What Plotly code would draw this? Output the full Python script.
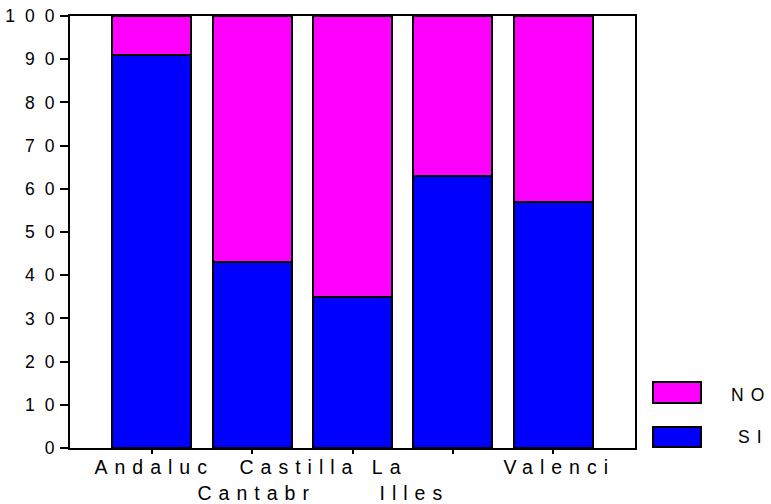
import plotly.graph_objects as go

# ---- data ----
categories = ["Andaluc", "Cantabr", "Castilla La", "Illes", "Valenci"]
si_values = [91, 43, 35, 63, 57]
no_values = [9, 57, 65, 37, 43]
series_names = ["SI", "NO"]
series_colors = ["#0000FF", "#FF00FF"]
y_tick_values = list(range(0, 101, 10))

FONT = "Liberation Sans, Arial, sans-serif"
LS_X = 7  # letter spacing (px) used for annotation text

x_pos = list(range(len(categories)))

fig = go.Figure()
for name, vals, col in zip(series_names, [si_values, no_values], series_colors):
    fig.add_trace(go.Bar(
        x=x_pos, y=vals, name=name, width=0.787,
        marker=dict(color=col, line=dict(color="black", width=2)),
        hoverinfo="skip", showlegend=False,
    ))

# category labels (alternating rows, as in the reference)
rows = [0, 1, 0, 1, 0]
label_shift = [-1, 1, -33, -42, 3]
annotations = []
for i, (cat, r, sh) in enumerate(zip(categories, rows, label_shift)):
    annotations.append(dict(
        x=i, xref="x", y=0, yref="paper", yanchor="middle", xanchor="center",
        yshift=-19 if r == 0 else -44.5, xshift=sh + LS_X / 2,
        text=cat, showarrow=False,
        font=dict(family=FONT, size=19.5, color="black"),
    ))

# legend drawn as swatches + labels
plot_l, plot_w, plot_t, plot_h = 70, 565, 16, 432
def px_x(p):
    return (p - plot_l) / plot_w
def px_y(p):
    return (plot_t + plot_h - p) / plot_h

legend_items = [("NO", "#FF00FF", 382, 403, 395, 747), ("SI", "#0000FF", 427, 447, 437, 750)]
shapes = []
for name, col, y0, y1, yc, xc in legend_items:
    shapes.append(dict(type="rect", xref="paper", yref="paper",
                       x0=px_x(653), x1=px_x(701), y0=px_y(y1), y1=px_y(y0),
                       fillcolor=col, line=dict(color="black", width=2)))
    annotations.append(dict(x=px_x(xc), y=px_y(yc), xref="paper", yref="paper",
                            xanchor="center", yanchor="middle", xshift=LS_X / 2,
                            text=name, showarrow=False,
                            font=dict(family=FONT, size=17.5, color="black")))

fig.update_layout(
    width=771, height=504,
    margin=dict(l=70, r=136, t=16, b=56, pad=0, autoexpand=False),
    barmode="stack", bargap=0.2,
    plot_bgcolor="white", paper_bgcolor="white",
    showlegend=False,
    annotations=annotations, shapes=shapes,
    font=dict(family=FONT, color="black"),
)
fig.update_xaxes(
    range=[-0.814, 4.814], tickvals=x_pos, showticklabels=False,
    ticks="outside", ticklen=4, tickwidth=2, tickcolor="black",
    showline=True, linewidth=2, linecolor="black", mirror=True,
    showgrid=False, zeroline=False, automargin=False,
)
fig.update_yaxes(
    range=[0, 100], tickvals=y_tick_values,
    ticks="outside", ticklen=8, tickwidth=2, tickcolor="black",
    tickfont=dict(family=FONT, size=17.5, color="black"),
    ticklabelstandoff=-8,
    showline=True, linewidth=2, linecolor="black", mirror=True,
    showgrid=False, zeroline=False, automargin=False,
)

post = """
document.body.style.margin='0';
var s=document.createElement('style');
s.textContent='.ytick text{letter-spacing:10px;} .annotation-text{letter-spacing:%dpx;}';
document.head.appendChild(s);
""" % LS_X

fig.write_html("out.html", post_script=post, config={"displayModeBar": False})
